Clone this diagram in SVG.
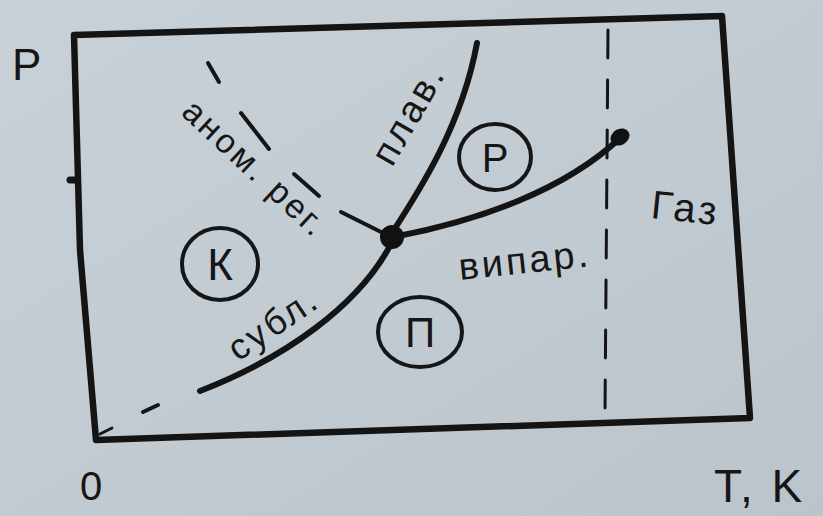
<svg xmlns="http://www.w3.org/2000/svg" width="823" height="516" viewBox="0 0 823 516">
<defs>
<linearGradient id="bg" x1="0" y1="0" x2="1" y2="1">
<stop offset="0" stop-color="#c9d1d8"/>
<stop offset="0.5" stop-color="#c3cbd2"/>
<stop offset="1" stop-color="#bcc4cb"/>
</linearGradient>
<style>
.ln{fill:none;stroke:#141414;stroke-linecap:round;stroke-linejoin:round}
.fr{stroke-width:6.5}
.cv{stroke-width:6}
.ds{stroke-width:4}
.t{font-family:"Liberation Sans","DejaVu Sans",sans-serif;fill:#161616}
.c{fill:none;stroke:#161616;stroke-width:4}
</style>
</defs>
<rect width="823" height="516" fill="url(#bg)"/>
<g id="frame">
<path class="ln fr" d="M96,440 L750,418 L722,16 L74,35 L80,250 L96,440"/>
<path class="ln" stroke-width="7" d="M70,180 L76,180"/>
<path class="ln" stroke-width="3" d="M100,434 L112,428"/>
<path class="ln" stroke-width="4" d="M143,412 L158,405"/>
</g>
<g id="axis-labels">
<text class="t" x="12" y="80" font-size="44">P</text>
<text class="t" x="80" y="500" font-size="40">0</text>
<text class="t" x="714" y="502" font-size="46" letter-spacing="3">T, K</text>
</g>
<g id="connectors">
<path id="melting" class="ln cv" d="M390,236 C420,190 462,125 477,43"/>
<path id="vaporization" class="ln cv" d="M398,236 C480,220 565,190 620,138"/>
<path id="sublimation" class="ln cv" d="M392,242 C360,305 285,358 200,391"/>
<g id="anomalous" class="ln ds">
<path d="M208,63 L219,82"/>
<path d="M241,113 L269,149"/>
<path d="M294,174 L319,196"/>
<path d="M341,212 L383,233"/>
</g>
<path id="critical-line" class="ln" stroke-width="3" stroke-dasharray="28,22" d="M608,30 L605,412"/>
</g>
<g id="triple-point"><circle cx="392" cy="237" r="12" fill="#111"/></g>
<g id="critical-point"><ellipse cx="620" cy="137" rx="10" ry="8" fill="#111" transform="rotate(-30 620 137)"/></g>
<g id="label-anom"><text class="t" font-size="34" letter-spacing="3" transform="translate(180,114) rotate(43)">аном. рег.</text></g>
<g id="label-melt"><text class="t" font-size="38" letter-spacing="3" transform="translate(392,168) rotate(-60)">плав.</text></g>
<g id="label-vap"><text class="t" font-size="38" letter-spacing="3" transform="translate(460,280) rotate(-6)">випар.</text></g>
<g id="label-subl"><text class="t" font-size="36" letter-spacing="3" transform="translate(238,362) rotate(-34)">субл.</text></g>
<g id="label-gas"><text class="t" font-size="40" letter-spacing="3" transform="translate(650,218) rotate(6)">Газ</text></g>
<g id="region-K">
<ellipse class="c" cx="220" cy="264" rx="38" ry="36"/>
<text class="t" x="220" y="280" font-size="44" text-anchor="middle">К</text>
</g>
<g id="region-P">
<ellipse class="c" cx="495" cy="157" rx="36" ry="33"/>
<text class="t" x="495" y="172" font-size="40" text-anchor="middle">Р</text>
</g>
<g id="region-Pi">
<ellipse class="c" cx="420" cy="332" rx="42" ry="35"/>
<text class="t" x="420" y="347" font-size="42" text-anchor="middle">П</text>
</g>
</svg>
